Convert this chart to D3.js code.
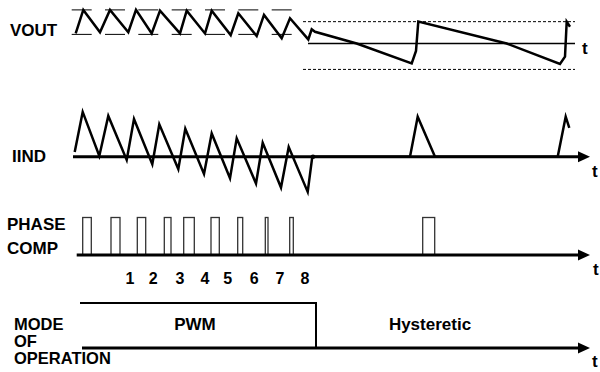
<!DOCTYPE html>
<html><head><meta charset="utf-8">
<script src="https://cdn.jsdelivr.net/npm/d3@7/dist/d3.min.js"></script>
<style>
body{margin:0;background:#fff}
svg{display:block}
text{font-family:"Liberation Sans",Arial,Helvetica,sans-serif;font-weight:bold;fill:#000}
</style>
</head><body>
<svg id="chart" width="600" height="372"></svg>
<script>
// ---- data (time in arbitrary units, values in normalised units) ----
const voutTime  = [5.7, 13.3, 30, 40, 58.3, 66, 81.7, 90, 110, 116.7, 135, 141.7, 160.7, 168.3, 186.7, 194, 211.7, 220, 238.3, 241.7, 245, 286.7, 341.7, 346, 348.3, 436.7, 490, 495, 496.7, 500];
const voutValue = [0.42, 1.40, 0.47, 1.40, 0.47, 1.40, 0.42, 1.37, 0.42, 1.37, 0.42, 1.37, 0.35, 1.26, 0.31, 1.19, 0.22, 1.05, 0.17, 0.59, 0.49, 0.0, -0.83, -0.31, 0.91, 0.0, -0.85, -0.55, 0.91, 0.70];
const voutDashStart = [1.7, 35, 68.3, 101.7, 135, 168.3, 201.7];
const voutDashLevels = [1.40, 0.38];
const voutBand = [0.91, -1.08];

const iindTime  = [4.7, 12.7, 29.3, 38.3, 56.7, 64, 82.3, 89.3, 108.3, 115.3, 134, 141.7, 160, 166.7, 186, 192.7, 211, 218.7, 237.7, 242.3, 340, 347.7, 365, 487.7, 495.7, 499.3];
const iindValue = [0.12, 1.12, 0.02, 1.02, -0.08, 0.94, -0.19, 0.81, -0.31, 0.70, -0.43, 0.58, -0.54, 0.46, -0.67, 0.35, -0.77, 0.24, -0.88, 0.0, 0.0, 1.0, 0.0, 0.0, 1.0, 0.72];

const pulseStart = [12.7, 41, 67.3, 94.3, 113.7, 141, 167.7, 195.3, 219.7, 352.7];
const pulseEnd   = [21.3, 50, 75.7, 101, 124.3, 149.3, 172.7, 198, 223.3, 364.7];
const phaseNumbers = ["1", "2", "3", "4", "5", "6", "7", "8"];
const phaseNumberTime = [60, 83.3, 110, 135, 157.7, 184.3, 210, 235];

const modeLabels = ["PWM", "Hysteretic"];
const modeLabelTime = [125, 360];
const modeStart = 10;
const modeSwitch = 246;

const rowLabels = [["VOUT"], ["IIND"], ["PHASE", "COMP"], ["MODE", "OF", "OPERATION"]];

// ---- scales ----
const svg = d3.select("#chart");
const x = d3.scaleLinear().domain([0, 520]).range([70, 590]);
const yV = d3.scaleLinear().domain([0, 1]).range([43.5, 19.5]);
const yI = d3.scaleLinear().domain([0, 1]).range([156.7, 116.7]);
const yP = d3.scaleLinear().domain([0, 1]).range([255, 217.5]);
const yM = d3.scaleLinear().domain([0, 1]).range([348, 303]);

function arrowAxis(y0, t0, width) {
  const yy = y0;
  svg.append("line").attr("x1", x(t0)).attr("x2", x(520) - 8).attr("y1", yy).attr("y2", yy)
    .attr("stroke", "#000").attr("stroke-width", width);
  svg.append("path").attr("d", `M${x(520)},${yy}L${x(520) - 12},${yy - 5.5}L${x(520) - 12},${yy + 5.5}Z`).attr("fill", "#000");
}
function tLabel(px, py) {
  svg.append("text").attr("x", px).attr("y", py).attr("font-size", 17).text("t");
}

// ---- VOUT ----
voutDashLevels.forEach(lv => {
  svg.selectAll(null).data(voutDashStart).enter().append("line")
    .attr("x1", d => x(d)).attr("x2", d => x(d + 20))
    .attr("y1", yV(lv)).attr("y2", yV(lv))
    .attr("stroke", "#000").attr("stroke-width", 1);
});
voutBand.forEach(lv => {
  svg.append("line").attr("x1", x(233)).attr("x2", x(505)).attr("y1", yV(lv)).attr("y2", yV(lv))
    .attr("stroke", "#000").attr("stroke-width", 1).attr("stroke-dasharray", "3,2");
});
svg.append("line").attr("x1", x(238)).attr("x2", x(505)).attr("y1", yV(0)).attr("y2", yV(0))
  .attr("stroke", "#000").attr("stroke-width", 1.3);
const voutLine = d3.line().x(d => x(d[0])).y(d => yV(d[1]));
svg.append("path").attr("d", voutLine(voutTime.map((t, i) => [t, voutValue[i]])))
  .attr("fill", "none").attr("stroke", "#000").attr("stroke-width", 2.5).attr("stroke-linejoin", "miter");
tLabel(x(512), 53.5);

// ---- IIND ----
arrowAxis(yI(0), 3, 3);
const iLine = d3.line().x(d => x(d[0])).y(d => yI(d[1]));
svg.append("path").attr("d", iLine(iindTime.map((t, i) => [t, iindValue[i]])))
  .attr("fill", "none").attr("stroke", "#000").attr("stroke-width", 2.5);
svg.append("circle").attr("cx", x(243)).attr("cy", yI(0)).attr("r", 2.3).attr("fill", "#000");
tLabel(x(522), 177);

// ---- PHASE COMP ----
svg.selectAll(null).data(pulseStart).enter().append("rect")
  .attr("x", d => x(d)).attr("width", (d, i) => x(pulseEnd[i]) - x(d))
  .attr("y", yP(1)).attr("height", yP(0) - yP(1))
  .attr("fill", "none").attr("stroke", "#333").attr("stroke-width", 1.3);
arrowAxis(yP(0), 6.7, 3);
svg.selectAll(null).data(phaseNumbers).enter().append("text")
  .attr("x", (d, i) => x(phaseNumberTime[i])).attr("y", 284)
  .attr("text-anchor", "middle").attr("font-size", 16).text(d => d);
tLabel(x(523), 275);

// ---- MODE ----
svg.append("path").attr("d", `M${x(modeStart)},${yM(1)}H${x(modeSwitch)}V${yM(0)}`)
  .attr("fill", "none").attr("stroke", "#000").attr("stroke-width", 2);
arrowAxis(yM(0), 12, 3);
svg.selectAll(null).data(modeLabels).enter().append("text")
  .attr("x", (d, i) => x(modeLabelTime[i])).attr("y", 330)
  .attr("text-anchor", "middle").attr("font-size", 17).text(d => d);
tLabel(x(522), 367);

// ---- row labels ----
const labelPos = [[10, [36]], [12, [162]], [7, [230, 254]], [14, [330, 346.5, 363.5]]];
const labelSize = [17, 17, 17, 16.5];
rowLabels.forEach((lines, r) => {
  lines.forEach((s, j) => {
    svg.append("text").attr("x", labelPos[r][0]).attr("y", labelPos[r][1][j])
      .attr("font-size", labelSize[r]).text(s);
  });
});
</script>
</body></html>
